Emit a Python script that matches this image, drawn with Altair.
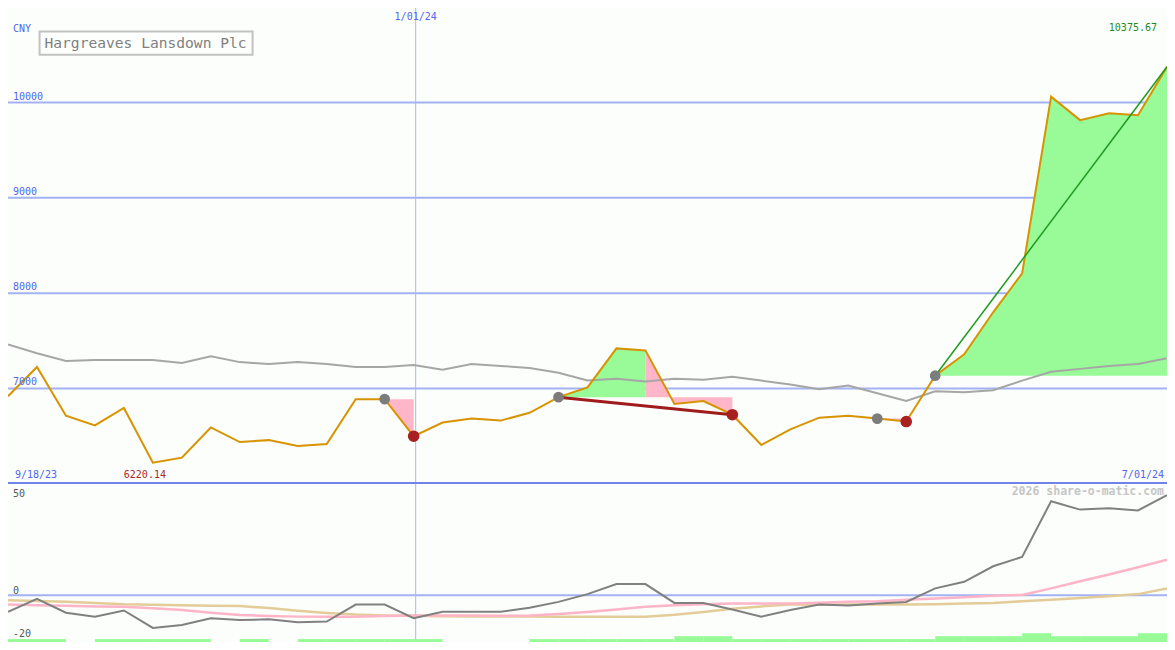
import altair as alt
import pandas as pd

# ---------------- data ----------------
close = [6918, 7225, 6713, 6611, 6795, 6220.14, 6273, 6590, 6437, 6457,
         6396, 6416, 6887, 6887, 6498, 6642, 6683, 6662, 6744, 6908,
         7010, 7420, 7399, 6836, 6867, 6724, 6406, 6570, 6693, 6713,
         6683, 6652, 7133, 7358, 7799, 8208, 10062, 9816, 9888, 9867,
         10375.67]
avg = [7461, 7369, 7287, 7297, 7297, 7297, 7266, 7338, 7276, 7256,
       7276, 7256, 7225, 7225, 7246, 7195, 7256, 7236, 7215, 7164,
       7082, 7102, 7072, 7102, 7092, 7123, 7082, 7041, 6990, 7031,
       6949, 6867, 6969, 6959, 6980, 7082, 7174, 7205, 7236, 7256,
       7317]
mom = [-8.2, -1.8, -8.6, -10.5, -7.5, -16, -14.6, -11.3, -12.2, -11.8,
       -13.3, -12.9, -4.6, -4.6, -11.3, -8.1, -8.1, -8.1, -6.2, -3.3,
       0.5, 5.4, 5.4, -3.8, -3.8, -7, -10.5, -7.3, -4.6, -5.1,
       -4.1, -3.3, 3.3, 6.5, 14.1, 18.7, 45.9, 41.8, 42.5, 41.4,
       48.9]
mom_fast = [-4.6, -4.9, -5.2, -5.5, -5.7, -6.4, -7.3, -8.6, -9.7, -10.2,
            -10.5, -10.5, -10.5, -10.2, -10.0, -9.9, -10.0, -10.1, -10.0, -9.2,
            -8.2, -7.0, -5.7, -4.9, -4.5, -4.1, -4.1, -4.1, -3.7, -3.2,
            -3.0, -2.3, -1.7, -1.0, -0.3, 0.1, 3.3, 6.8, 10.1, 13.6,
            17.3]
mom_slow = [-2.5, -2.9, -3.2, -3.9, -4.5, -4.7, -4.9, -5.2, -5.3, -6.3,
            -7.6, -8.7, -9.5, -9.9, -10.1, -10.3, -10.4, -10.4, -10.5, -10.5,
            -10.5, -10.5, -10.5, -9.6, -8.2, -6.6, -5.5, -4.6, -4.6, -4.6,
            -4.6, -4.6, -4.4, -4.1, -3.8, -3.0, -2.2, -1.4, -0.5, 0.5,
            3.3]
volume = [1, 1, 0, 1, 1, 1, 1, 0, 1, 0, 1, 1, 1, 1, 1, 0, 0, 0, 1, 1,
          1, 1, 1, 2, 2, 1, 1, 1, 1, 1, 1, 1, 2, 2, 2, 3, 2, 2, 2, 3]

buy_idx = [13, 19, 30, 32]
sell_idx = [14, 25, 31]
seg_start = [13, 19, 22, 30, 32]
seg_end = [14, 22, 25, 31, 40]
seg_base = [13, 19, 19, 30, 32]
seg_kind = ["down", "up", "down", "down", "up"]
trend_from = [19, 32]
trend_to = [25, 40]
trend_kind = ["down", "up"]

price_ticks = [7000, 8000, 9000, 10000]
osc_ticks = [50, 0, -20]
date_labels = ["9/18/23", "1/01/24", "7/01/24"]
date_pos = [0, 14.07, 40]
title_text = "Hargreaves Lansdown Plc"
currency = "CNY"
watermark = "2026 share-o-matic.com"

# ---------------- tables ----------------
n = len(close)
df = pd.DataFrame({"i": list(range(n)), "close": close, "avg": avg,
                   "mom": mom, "fast": mom_fast, "slow": mom_slow})
area_rows = []
for s, (a, b, base, kind) in enumerate(zip(seg_start, seg_end, seg_base, seg_kind)):
    for i in range(a, b + 1):
        area_rows.append({"seg": s, "i": i, "v": close[i], "base": close[base], "kind": kind})
areas = pd.DataFrame(area_rows)
trend_rows = []
for t, (a, b, kind) in enumerate(zip(trend_from, trend_to, trend_kind)):
    trend_rows.append({"t": t, "i": a, "v": close[a], "kind": kind})
    trend_rows.append({"t": t, "i": b, "v": close[b], "kind": kind})
trends = pd.DataFrame(trend_rows)
buys = pd.DataFrame({"i": buy_idx, "v": [close[i] for i in buy_idx]})
sells = pd.DataFrame({"i": sell_idx, "v": [close[i] for i in sell_idx]})
vol = pd.DataFrame({"i": list(range(len(volume))), "i2": list(range(1, len(volume) + 1)), "vol": volume})
ptick = pd.DataFrame({"v": price_ticks, "label": [str(t) for t in price_ticks]})
otick = pd.DataFrame({"v": osc_ticks, "label": [str(t) for t in osc_ticks]})
dates = pd.DataFrame({"pos": date_pos, "label": date_labels})
imax = close.index(max(close))
imin = close.index(min(close))
hi = pd.DataFrame({"i": [imax], "label": [f"{close[imax]:.2f}"]})
lo = pd.DataFrame({"i": [imin], "label": [f"{close[imin]:.2f}"]})

# ---------------- layout ----------------
W, H1, H = 1159, 475, 634
FONT = "DejaVu Sans Mono"
BLUE_TXT = "#5266ee"
GRID = "#a3b2f2"

XS = alt.Scale(domain=[0, n - 1], nice=False, zero=False)
YM = alt.Scale(domain=[6007, 10993], range=[H1, 0], nice=False, zero=False)
YL = alt.Scale(domain=[-22.9, 54.8], range=[H, H1], nice=False, zero=False)
YV = alt.Scale(domain=[0, 54.3], range=[H, H1], nice=False, zero=False)

def X(f="i"):
    return alt.X(f"{f}:Q", scale=XS, axis=None)

def txt(**kw):
    base = dict(font=FONT, fontSize=10, baseline="middle")
    base.update(kw)
    return base

layers = []
# grid & separators
layers.append(alt.Chart(ptick).mark_rule(color=GRID, strokeWidth=2).encode(
    y=alt.Y("v:Q", scale=YM, axis=None)))
layers.append(alt.Chart(pd.DataFrame({"v": [0]})).mark_rule(color=GRID, strokeWidth=2).encode(
    y=alt.Y("v:Q", scale=YL, axis=None)))
layers.append(alt.Chart(dates[dates.label == "1/01/24"]).mark_rule(color="#a8b6f6", strokeWidth=1).encode(
    x=X("pos")))
layers.append(alt.Chart(pd.DataFrame({"k": [0]})).mark_rule(color="#7083ea", strokeWidth=2).encode(
    y=alt.value(H1)))

# signal fills
layers.append(alt.Chart(areas).mark_area(opacity=1).encode(
    x=X(), y=alt.Y("v:Q", scale=YM, axis=None), y2="base:Q",
    color=alt.Color("kind:N", scale=alt.Scale(domain=["up", "down"], range=["#98fb98", "#ffb6c8"]), legend=None),
    detail="seg:N"))

# price lines
layers.append(alt.Chart(df).mark_line(color="#a6a6a6", strokeWidth=2).encode(
    x=X(), y=alt.Y("avg:Q", scale=YM, axis=None)))
layers.append(alt.Chart(df).mark_line(color="#d89300", strokeWidth=2).encode(
    x=X(), y=alt.Y("close:Q", scale=YM, axis=None)))
layers.append(alt.Chart(trends[trends.kind == "down"]).mark_line(color="#a01c1c", strokeWidth=3).encode(
    x=X(), y=alt.Y("v:Q", scale=YM, axis=None), detail="t:N"))
layers.append(alt.Chart(trends[trends.kind == "up"]).mark_line(color="#1f9a1f", strokeWidth=1.5).encode(
    x=X(), y=alt.Y("v:Q", scale=YM, axis=None), detail="t:N"))
layers.append(alt.Chart(buys).mark_circle(color="#7c7c7c", size=115, opacity=1).encode(
    x=X(), y=alt.Y("v:Q", scale=YM, axis=None)))
layers.append(alt.Chart(sells).mark_circle(color="#a82020", size=135, opacity=1).encode(
    x=X(), y=alt.Y("v:Q", scale=YM, axis=None)))

# oscillator panel
layers.append(alt.Chart(vol).mark_rect(color="#98fb98").encode(
    x=X(), x2="i2:Q", y=alt.Y("vol:Q", scale=YV, axis=None), y2=alt.datum(0)))
layers.append(alt.Chart(df).mark_line(color="#e4cc98", strokeWidth=2.5).encode(
    x=X(), y=alt.Y("slow:Q", scale=YL, axis=None)))
layers.append(alt.Chart(df).mark_line(color="#ffb4c8", strokeWidth=2.5).encode(
    x=X(), y=alt.Y("fast:Q", scale=YL, axis=None)))
layers.append(alt.Chart(df).mark_line(color="#808080", strokeWidth=2).encode(
    x=X(), y=alt.Y("mom:Q", scale=YL, axis=None)))

# texts
layers.append(alt.Chart(ptick).mark_text(**txt(align="left", dx=5, dy=-6, color=BLUE_TXT)).encode(
    x=alt.value(0), y=alt.Y("v:Q", scale=YM, axis=None), text="label:N"))
for v, dy in zip(osc_ticks, [1, -4, -2]):
    layers.append(alt.Chart(otick[otick.v == v]).mark_text(**txt(align="left", dx=5, dy=dy, color="#585858")).encode(
        x=alt.value(0), y=alt.Y("v:Q", scale=YL, axis=None), text="label:N"))
layers.append(alt.Chart(pd.DataFrame({"label": [currency]})).mark_text(**txt(align="left", color=BLUE_TXT)).encode(
    x=alt.value(5), y=alt.value(20.5), text="label:N"))
layers.append(alt.Chart(dates[dates.label == "1/01/24"]).mark_text(**txt(align="center", color=BLUE_TXT)).encode(
    x=X("pos"), y=alt.value(9), text="label:N"))
layers.append(alt.Chart(dates[dates.label == "9/18/23"]).mark_text(**txt(align="left", dx=7, color=BLUE_TXT)).encode(
    x=X("pos"), y=alt.value(H1 - 8), text="label:N"))
layers.append(alt.Chart(dates[dates.label == "7/01/24"]).mark_text(**txt(align="right", dx=-3, color=BLUE_TXT)).encode(
    x=X("pos"), y=alt.value(H1 - 8), text="label:N"))
layers.append(alt.Chart(hi).mark_text(**txt(align="right", dx=-10, color="#1f8a1f")).encode(
    x=X(), y=alt.value(19.5), text="label:N"))
layers.append(alt.Chart(lo).mark_text(**txt(align="center", dx=-8, color="#a52a2a")).encode(
    x=X(), y=alt.value(H1 - 8), text="label:N"))
layers.append(alt.Chart(pd.DataFrame({"label": [watermark]})).mark_text(
    **txt(align="right", color="#c6c6c6", fontSize=11.5, fontWeight="bold")).encode(
    x=alt.value(W - 3), y=alt.value(H1 + 9), text="label:N"))
layers.append(alt.Chart(pd.DataFrame({"k": [0]})).mark_rect(fill="#fdfffd", stroke="#c2c2c2", strokeWidth=2).encode(
    x=alt.value(31.6), x2=alt.value(244.6), y=alt.value(23.4), y2=alt.value(46.8)))
layers.append(alt.Chart(pd.DataFrame({"label": [title_text]})).mark_text(
    **txt(align="left", color="#808080", fontSize=14.6)).encode(
    x=alt.value(36.5), y=alt.value(35.5), text="label:N"))

chart = alt.layer(*layers).resolve_scale(y="independent", color="independent").properties(
    width=W, height=H, padding=0, autosize=alt.AutoSizeParams(type="none"),
    background="#fbfefb",
).configure_view(stroke=None)

chart.save("out.html", embed_options={"renderer": "svg", "actions": False})
